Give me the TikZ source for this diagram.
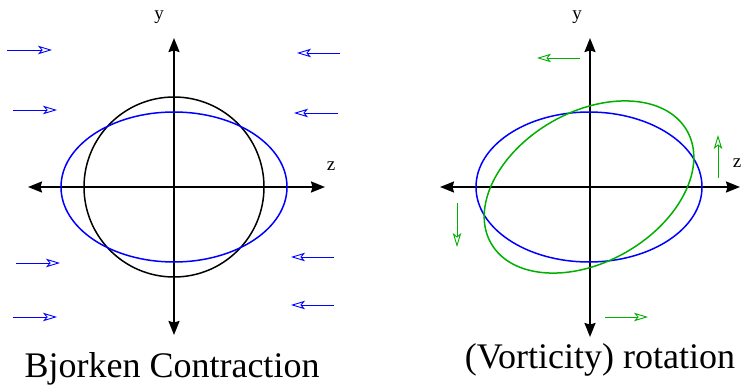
\documentclass[tikz,border=0pt]{standalone}
\usepackage{fontspec}
\setmainfont{Liberation Serif}
\usepackage{xcolor}
\usetikzlibrary{arrows.meta}
\definecolor{flowb}{RGB}{0,0,255}
\definecolor{flowg}{RGB}{0,176,0}

\begin{document}
\begin{tikzpicture}[x=1pt, y=-1pt,
  axis/.style={line width=1.8pt, {Stealth[length=14pt, width=11pt, inset=1.5pt]}-{Stealth[length=14pt, width=11pt, inset=1.5pt]}},
  curve/.style={line width=1.5pt},
  flow/.style={line width=0.9pt, -{Stealth[open, length=14pt, width=8.5pt, inset=3.5pt]}},
  lbl/.style={font=\fontsize{19}{21}\selectfont, inner sep=0pt},
  title/.style={font=\fontsize{36}{40}\selectfont, anchor=base, inner sep=0pt}]
  \useasboundingbox (0,0) rectangle (743,385);
  \coordinate (c1) at (174,187);
  \coordinate (c2) at (589,187);
  % left: contraction
  \draw[axis] (28,187) -- (325,187);
  \draw[axis] (174,335) -- (174,38);
  \draw[curve] (c1) circle [radius=90];
  \draw[curve, flowb] (c1) ellipse [x radius=113, y radius=75];
  \node[lbl] (y1) at (159,17) {y};
  \node[lbl] (z1) at (331,166) {z};
  \foreach \xa/\xb/\yy in {7/52/50, 13/57/110, 16/60/263, 13/57/317}
    \draw[flow, flowb] (\xa,\yy) -- (\xb,\yy);
  \foreach \xa/\xb/\yy in {340/297/53, 338/294/113, 334/291/257, 334/291/305}
    \draw[flow, flowb] (\xa,\yy) -- (\xb,\yy);
  \node[title] (t1) at (172,377) {Bjorken Contraction};
  % right: rotation
  \draw[axis] (440,187) -- (740,187);
  \draw[axis] (590,337) -- (590,38);
  \draw[curve, flowb] (c2) ellipse [x radius=113, y radius=75];
  \draw[curve, flowg, rotate around={30:(c2)}] (c2) ellipse [x radius=113, y radius=75];
  \node[lbl] (y2) at (577,17) {y};
  \node[lbl] (z2) at (737,163) {z};
  \draw[flow, flowg] (580,58) -- (537,58);
  \draw[flow, flowg] (718,178) -- (718,135);
  \draw[flow, flowg] (457,203) -- (457,247);
  \draw[flow, flowg] (605,317) -- (648,317);
  \node[title] (t2) at (600,368) {(Vorticity) rotation};
\end{tikzpicture}
\end{document}
